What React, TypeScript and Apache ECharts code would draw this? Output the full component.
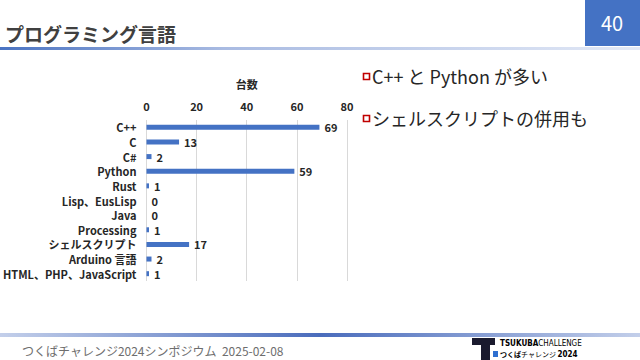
import React, { useEffect, useRef } from "react";
import * as echarts from "echarts";

const categories = [
  "C++",
  "C",
  "C#",
  "Python",
  "Rust",
  "Lisp、EusLisp",
  "Java",
  "Processing",
  "シェルスクリプト",
  "Arduino 言語",
  "HTML、PHP、JavaScript",
];
const counts = [69, 13, 2, 59, 1, 0, 0, 1, 17, 2, 1];
const axisName = "台数";
const titleText = "プログラミング言語";
const pageNumber = "40";
const bullets = ["C++ と Python が多い", "シェルスクリプトの併用も"];
const footerText = "つくばチャレンジ2024シンポジウム  2025-02-08";

const JP = '"Noto Sans CJK JP", "Noto Sans", sans-serif';
const NARROW = '"Liberation Sans Narrow", "DejaVu Sans Condensed", "Noto Sans", sans-serif';

export default function App() {
  const ref = useRef<HTMLDivElement>(null);
  useEffect(() => {
    document.body.style.margin = "0";
    const chart = echarts.init(ref.current!, undefined, { renderer: "svg" });
    chart.setOption({
      animation: false,
      backgroundColor: "#ffffff",
      textStyle: { fontFamily: JP },
      grid: { left: 144, right: 293, top: 120, height: 161, containLabel: false },
      xAxis: {
        type: "value",
        position: "top",
        min: 0,
        max: 80,
        interval: 20,
        name: axisName,
        nameLocation: "middle",
        nameGap: 31,
        nameTextStyle: { fontFamily: JP, fontSize: 11, fontWeight: "bold", color: "#262626" },
        axisLine: { show: false },
        axisTick: { show: false },
        axisLabel: { fontFamily: JP, fontSize: 11, fontWeight: "bold", color: "#262626", margin: 9 },
        splitLine: { show: true, lineStyle: { color: "#d9d9d9", width: 1 } },
      },
      yAxis: {
        type: "category",
        data: categories,
        inverse: true,
        axisLine: { show: false },
        axisTick: { show: false },
        axisLabel: { fontFamily: JP, fontSize: 11, fontWeight: "bold", color: "#262626", margin: 10 },
      },
      series: [
        {
          type: "bar",
          data: counts,
          barWidth: 5,
          itemStyle: { color: "#4472C4" },
          label: {
            show: true,
            position: "right",
            distance: 5,
            fontFamily: JP,
            fontSize: 11,
            fontWeight: "bold",
            color: "#262626",
          },
        },
      ],
      graphic: [
        {
          type: "text",
          x: 5,
          y: 33,
          style: { text: titleText, font: `bold 19px ${JP}`, fill: "#404040", verticalAlign: "middle" },
        },
        { type: "rect", shape: { x: 585, y: 0, width: 55, height: 46 }, style: { fill: "#4472C4" } },
        {
          type: "text",
          x: 612,
          y: 22,
          style: { text: pageNumber, font: `20px ${JP}`, fill: "#ffffff", align: "center", verticalAlign: "middle" },
        },
        {
          type: "rect",
          shape: { x: 0, y: 47, width: 640, height: 3 },
          style: {
            fill: new echarts.graphic.LinearGradient(0, 0, 1, 0, [
              { offset: 0, color: "#4a73c2" },
              { offset: 0.35, color: "#a9bbe2" },
              { offset: 1, color: "#e3e9f6" },
            ]),
          },
        },
        { type: "rect", shape: { x: 363.5, y: 73.5, width: 6, height: 6 }, style: { fill: "#ffffff", stroke: "#c00000", lineWidth: 1.6 } },
        {
          type: "text",
          x: 372,
          y: 76,
          style: { text: bullets[0], font: `18px ${JP}`, fill: "#262626", verticalAlign: "middle" },
        },
        { type: "rect", shape: { x: 363.5, y: 115.5, width: 6, height: 6 }, style: { fill: "#ffffff", stroke: "#c00000", lineWidth: 1.6 } },
        {
          type: "text",
          x: 372,
          y: 118,
          style: { text: bullets[1], font: `18px ${JP}`, fill: "#262626", verticalAlign: "middle" },
        },
        {
          type: "rect",
          shape: { x: 0, y: 333, width: 640, height: 4 },
          style: {
            fill: new echarts.graphic.LinearGradient(0, 0, 1, 0, [
              { offset: 0, color: "#c3cfea" },
              { offset: 0.5, color: "#4a6cbc" },
              { offset: 1, color: "#c3cfea" },
            ]),
          },
        },
        {
          type: "text",
          x: 22,
          y: 350,
          style: { text: footerText, font: `12px ${JP}`, fill: "#6e6e6e", verticalAlign: "middle" },
        },
        // logo
        { type: "rect", shape: { x: 472, y: 338, width: 23, height: 7 }, style: { fill: "#1a1a2e" } },
        { type: "rect", shape: { x: 481, y: 338, width: 9, height: 22 }, style: { fill: "#1a1a2e" } },
        { type: "rect", shape: { x: 493, y: 351, width: 5, height: 6 }, style: { fill: "#2f6fd0" } },
        {
          type: "text",
          x: 500,
          y: 343,
          style: {
            text: "{b|TSUKUBA}{c|CHALLENGE}",
            verticalAlign: "middle",
            rich: {
              b: { fontSize: 8, fontWeight: "bold", fontFamily: NARROW, color: "#1a1a3a", lineHeight: 9 },
              c: { fontSize: 8, fontFamily: NARROW, color: "#333344", lineHeight: 9 },
            },
          },
        },
        {
          type: "text",
          x: 500,
          y: 354,
          style: {
            text: "{b|つくば}{c|チャレンジ }{d|2024}",
            verticalAlign: "middle",
            rich: {
              b: { fontSize: 7, fontWeight: "bold", fontFamily: JP, color: "#1a1a3a", lineHeight: 9 },
              c: { fontSize: 7, fontFamily: JP, color: "#555566", lineHeight: 9 },
              d: { fontSize: 8, fontWeight: "bold", fontFamily: NARROW, color: "#2f6fd0", lineHeight: 9 },
            },
          },
        },
      ],
    });
    return () => chart.dispose();
  }, []);
  return (
    <div
      ref={ref}
      style={{ position: "fixed", left: 0, top: 0, width: 640, height: 360, background: "#fff" }}
    />
  );
}
